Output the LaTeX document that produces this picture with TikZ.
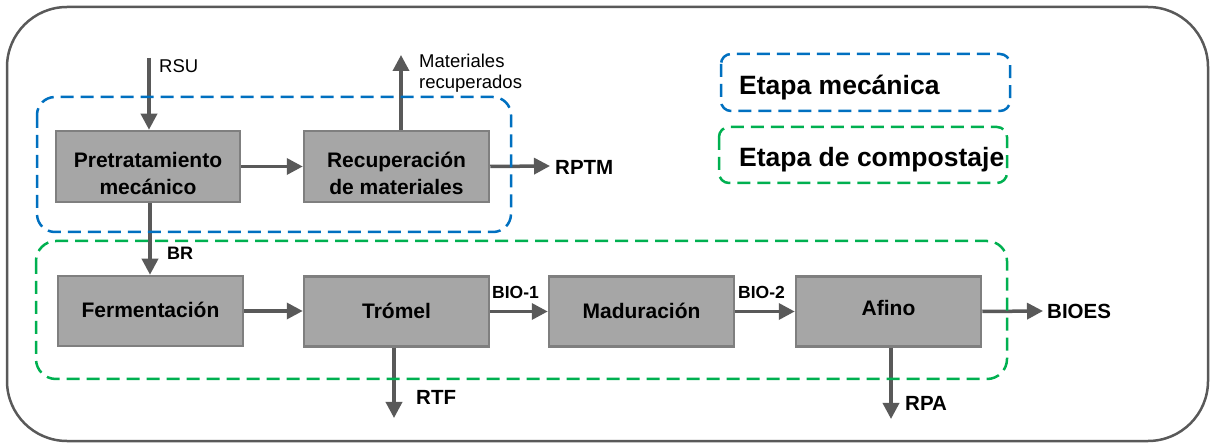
\documentclass[tikz,border=0pt]{standalone}
\usepackage{fontspec}
\setmainfont{Liberation Sans}
\usetikzlibrary{arrows.meta}
\definecolor{boxfill}{HTML}{A6A6A6}
\definecolor{boxline}{HTML}{7F7F7F}
\definecolor{arrcol}{HTML}{595959}
\definecolor{bluedash}{HTML}{0070C0}
\definecolor{greendash}{HTML}{00B050}
\tikzset{
  proc/.style={draw=boxline, fill=boxfill, line width=2.5pt, minimum width=184pt, minimum height=71pt,
    inner sep=0pt},
  proctext/.style={inner sep=0pt, align=center, font=\fontsize{21}{27}\selectfont\bfseries},
  arr/.style={draw=arrcol, line width=3.5pt, -{Triangle[length=16pt,width=16pt]}},
  outerbox/.style={draw=arrcol, line width=2.5pt, rounded corners=60pt},
  bluebox/.style={draw=bluedash, line width=2.5pt, dash pattern=on 13pt off 7pt, rounded corners=18pt},
  greenbox/.style={draw=greendash, line width=2.5pt, dash pattern=on 13pt off 7pt, rounded corners=20pt},
  lbl/.style={anchor=west, inner sep=0pt, font=\fontsize{20.5}{24}\selectfont\bfseries},
  smalllbl/.style={anchor=west, inner sep=0pt, font=\fontsize{17.5}{20}\selectfont\bfseries},
  plainlbl/.style={anchor=west, inner sep=0pt, align=left, font=\fontsize{18.5}{21.5}\selectfont},
  legendlbl/.style={anchor=west, inner sep=0pt, font=\fontsize{26.5}{30}\selectfont\bfseries}
}
\begin{document}
\begin{tikzpicture}[x=1pt,y=-1pt]
\useasboundingbox (0,0) rectangle (1210,443);
% outer frame
\draw[outerbox] (7,7) rectangle (1208,441);

% process boxes
\node[proc] (pre) at (148,166.5) {};
\node[proc, minimum width=185pt] (rec) at (396.5,166.5) {};
\node[proc, minimum width=185pt, minimum height=70pt] (fer) at (150.5,311) {};
\node[proc, minimum width=185pt, minimum height=70pt] (tro) at (396.5,311.5) {};
\node[proc, minimum width=185pt, minimum height=70pt] (mad) at (641.5,311.5) {};
\node[proc, minimum width=185pt, minimum height=70pt] (afi) at (888.5,311.5) {};

% box texts
\node[proctext] (pret) at ([yshift=-6.5pt]pre.center) {Pretratamiento\\mecánico};
\node[proctext] (rect) at ([yshift=-6.5pt]rec.center) {Recuperación\\de materiales};
\node[proctext] (fert) at ([yshift=1pt]fer.center) {Fermentación};
\node[proctext] (trot) at ([yshift=1pt]tro.center) {Trómel};
\node[proctext] (madt) at ([yshift=1pt]mad.center) {Maduración};
\node[proctext] (afit) at ([yshift=4pt]afi.center) {Afino};

% free ends
\coordinate (rsuS) at (149,58);
\coordinate (matE) at (401,55);
\coordinate (rptmE) at (550,166);
\coordinate (brx) at (150,240);
\coordinate (bioesE) at (1043,311);
\coordinate (rtfE) at (394,418);
\coordinate (rpaE) at (891,419);

% connectors
\draw[arr] (rsuS) -- (rsuS |- pre.north);
\draw[arr] (matE |- rec.north) -- (matE);
\draw[arr] (pre.east) -- (rec.west);
\draw[arr] (rec.east) -- (rptmE);
\draw[arr] (brx |- pre.south) -- (brx |- fer.north);
\draw[arr] (fer.east) -- (tro.west |- fer.east);
\draw[arr] (tro.east) -- (mad.west);
\draw[arr] (mad.east) -- (afi.west);
\draw[arr] (afi.east) -- (bioesE);
\draw[arr] (rtfE |- tro.south) -- (rtfE);
\draw[arr] (rpaE |- afi.south) -- (rpaE);

% labels
\node[plainlbl] (rsu) at (159,66) {RSU};
\node[plainlbl] (mat) at (419,73) {Materiales\\recuperados};
\node[lbl] (rptm) at (555,167) {RPTM};
\node[smalllbl, font=\fontsize{18}{20}\selectfont\bfseries] (br) at (167,253) {BR};
\node[smalllbl] (bio1) at (492,292) {BIO-1};
\node[smalllbl] (bio2) at (738,292) {BIO-2};
\node[lbl] (bioes) at (1047,311) {BIOES};
\node[lbl] (rtf) at (416,397) {RTF};
\node[lbl] (rpa) at (905,403) {RPA};

% stage frames
\draw[bluebox] (37,97) rectangle (511,232);
\draw[greenbox] (36,241) rectangle (1007,379);

% legend
\draw[bluebox, rounded corners=10pt] (721,54) rectangle (1010,111);
\draw[greenbox, rounded corners=10pt] (719,127) rectangle (1007,183);
\node[legendlbl] (legm) at (739,88) {Etapa mecánica};
\node[legendlbl] (legc) at (739,160) {Etapa de compostaje};
\end{tikzpicture}
\end{document}
